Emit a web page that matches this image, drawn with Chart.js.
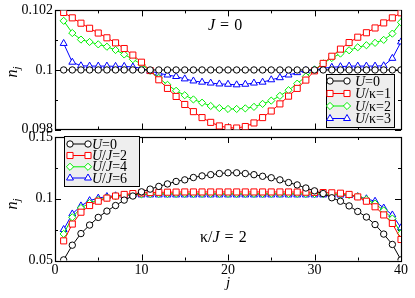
<!DOCTYPE html>
<html><head><meta charset="utf-8">
<script src="https://cdn.jsdelivr.net/npm/chart.js@4/dist/chart.umd.min.js"></script>
<style>
html,body{margin:0;padding:0;background:#fff;}
#wrap{position:relative;width:415px;height:298px;overflow:hidden;}
canvas{position:absolute;left:0;}
#c1{top:0;}
#c2{top:124px;}
</style></head><body>
<div id="wrap"><canvas id="c1" width="415" height="140"></canvas><canvas id="c2" width="415" height="174"></canvas></div>
<script>
// ---------------- DATA ----------------
const sites = [1,2,3,4,5,6,7,8,9,10,11,12,13,14,15,16,17,18,19,20,21,22,23,24,25,26,27,28,29,30,31,32,33,34,35,36,37,38,39,40];

const topSeriesNames = ['U=0','U/κ=1','U/κ=2','U/κ=3'];
const topU0 = [0.1,0.1,0.1,0.1,0.1,0.1,0.1,0.1,0.1,0.1,0.1,0.1,0.1,0.1,0.1,0.1,0.1,0.1,0.1,0.1,0.1,0.1,0.1,0.1,0.1,0.1,0.1,0.1,0.1,0.1,0.1,0.1,0.1,0.1,0.1,0.1,0.1,0.1,0.1,0.1];
const topUk1 = [0.10193,0.10175,0.10157,0.10140,0.10124,0.10108,0.10091,0.10072,0.10050,0.10026,0.09998,0.09967,0.09938,0.09911,0.09884,0.09860,0.09840,0.09824,0.09812,0.09806,
                0.09805,0.09810,0.09822,0.09840,0.09862,0.09886,0.09912,0.09938,0.09966,0.09997,0.10022,0.10046,0.10070,0.10092,0.10110,0.10125,0.10141,0.10158,0.10175,0.10192];
const topUk2 = [0.10165,0.10124,0.10102,0.10094,0.10086,0.10078,0.10067,0.10052,0.10036,0.10019,0.09997,0.09973,0.09950,0.09930,0.09915,0.09901,0.09890,0.09879,0.09872,0.09869,
                0.09869,0.09871,0.09876,0.09886,0.09897,0.09913,0.09932,0.09954,0.09978,0.10001,0.10022,0.10040,0.10055,0.10066,0.10076,0.10083,0.10091,0.10101,0.10122,0.10160];
const topUk3 = [0.10089,0.10026,0.10014,0.10013,0.10013,0.10013,0.10012,0.10012,0.10010,0.10006,0.09996,0.09989,0.09983,0.09978,0.09970,0.09963,0.09959,0.09956,0.09953,0.09952,
                0.09950,0.09952,0.09956,0.09959,0.09967,0.09974,0.09983,0.09991,0.09998,0.10000,0.10006,0.10009,0.10011,0.10013,0.10013,0.10013,0.10013,0.10014,0.10039,0.10094];

const botSeriesNames = ['U=0','U/J=2','U/J=4','U/J=6'];
const botU0 = [0.0505,0.0624,0.0718,0.0787,0.0849,0.0900,0.0945,0.0989,0.1022,0.1056,0.1078,0.1100,0.1120,0.1140,0.1153,0.1172,0.1185,0.1195,0.1204,0.1210,
               0.1210,0.1204,0.1195,0.1182,0.1170,0.1153,0.1131,0.1112,0.1087,0.1064,0.1042,0.1008,0.0980,0.0942,0.0897,0.0852,0.0791,0.0714,0.0630,0.0505];
const botUJ2 = [0.0659,0.0795,0.0891,0.0945,0.0980,0.1005,0.1022,0.1035,0.1042,0.1047,0.1050,0.1052,0.1053,0.1054,0.1055,0.1055,0.1055,0.1055,0.1055,0.1055,
                0.1055,0.1055,0.1055,0.1055,0.1055,0.1055,0.1055,0.1054,0.1053,0.1052,0.1050,0.1048,0.1045,0.1035,0.1015,0.0980,0.0935,0.0869,0.0800,0.0670];
const botUJ4 = [0.0715,0.0850,0.0925,0.0965,0.0990,0.1008,0.1020,0.1028,0.1033,0.1036,0.1038,0.1039,0.1040,0.1040,0.1040,0.1040,0.1040,0.1040,0.1040,0.1040,
                0.1040,0.1040,0.1040,0.1040,0.1040,0.1040,0.1040,0.1040,0.1039,0.1039,0.1038,0.1037,0.1036,0.1030,0.1018,0.0995,0.0960,0.0905,0.0840,0.0720];
const botUJ6 = [0.0751,0.0877,0.0942,0.0985,0.1005,0.1018,0.1024,0.1028,0.1030,0.1031,0.1031,0.1031,0.1031,0.1031,0.1031,0.1031,0.1031,0.1031,0.1031,0.1031,
                0.1031,0.1031,0.1031,0.1031,0.1031,0.1031,0.1031,0.1031,0.1031,0.1031,0.1031,0.1031,0.1030,0.1026,0.1017,0.1000,0.0980,0.0925,0.0869,0.0765];

const xMajorTicks = [0,10,20,30,40];
const xMinorTicks = [5,15,25,35];
const topYTicks = [0.098,0.1,0.102];
const topYTickLabels = ['0.098','0.1','0.102'];
const topYMinor = [0.099,0.101];
const botYTicks = [0.05,0.1,0.15];
const botYTickLabels = ['0.05','0.1','0.15'];
const botYMinor = [0.075,0.125];
const xTitle = 'j';
const topNote = 'J = 0';
const botNote = 'κ/J = 2';

// ---------------- STYLE ----------------
const SERIF = "'Liberation Serif','Times New Roman',serif";
const seriesColors = ['#000000','#ff0000','#00f000','#0000ff'];
const seriesMarkers = ['circle','rect','rectRot','triangle'];
const seriesRadius = [3.2,4.3,3.6,4.0];

function buildDatasets(names, arrays){
  return arrays.map((arr,k)=>({
    label: names[k],
    data: arr.map((v,i)=>({x:sites[i], y:v})),
    borderColor: seriesColors[k],
    backgroundColor: '#ffffff',
    pointBorderColor: seriesColors[k],
    pointBackgroundColor: '#ffffff',
    pointStyle: seriesMarkers[k],
    pointRadius: seriesRadius[k],
    pointBorderWidth: 1,
    borderWidth: 1,
    tension: 0,
    fill: false
  }));
}

function drawRich(ctx, text, x, y, size, spaceW){
  let cx = x;
  for (const ch of text){
    if (ch === ' '){ cx += spaceW; continue; }
    const it = /[A-Za-z]/.test(ch);
    ctx.font = (it ? 'italic ' : '') + size + 'px ' + SERIF;
    ctx.fillText(ch, cx, y);
    cx += ctx.measureText(ch).width;
  }
  return cx;
}

const framePlugin = {
  id: 'frame',
  beforeDatasetsDraw(chart, args, o){
    const {ctx, chartArea:a, scales:{x, y}} = chart;
    ctx.save();
    ctx.strokeStyle = '#000'; ctx.lineWidth = 1.2;
    ctx.strokeRect(Math.round(a.left)+0.5, Math.round(a.top)+0.5, Math.round(a.right-a.left), Math.round(a.bottom-a.top));
    ctx.beginPath();
    ctx.lineWidth = 1;
    const tick = (vals, len, isX) => {
      vals.forEach(v=>{
        if (isX){
          const p = Math.round(x.getPixelForValue(v))+0.5;
          ctx.moveTo(p, a.bottom); ctx.lineTo(p, a.bottom-len);
          ctx.moveTo(p, a.top); ctx.lineTo(p, a.top+len);
        } else {
          const p = Math.round(y.getPixelForValue(v))+0.5;
          ctx.moveTo(a.left, p); ctx.lineTo(a.left+len, p);
          ctx.moveTo(a.right, p); ctx.lineTo(a.right-len, p);
        }
      });
    };
    tick(xMajorTicks, 6, true); tick(xMinorTicks, 3, true);
    tick(o.yMajor, 6, false); tick(o.yMinor, 3, false);
    ctx.stroke();
    ctx.restore();
  },
  afterDraw(chart, args, o){
    const {ctx} = chart;
    ctx.save();
    ctx.fillStyle = '#000';
    // y axis title n_j
    ctx.translate(o.yTitle.x, o.yTitle.y);
    ctx.rotate(-Math.PI/2);
    ctx.textBaseline = 'middle';
    ctx.font = 'italic 16px ' + SERIF;
    const wn = ctx.measureText('n').width;
    ctx.font = 'italic 11px ' + SERIF;
    const wj = ctx.measureText('j').width;
    const x0 = -(wn+wj)/2;
    ctx.font = 'italic 16px ' + SERIF;
    ctx.fillText('n', x0, 0);
    ctx.font = 'italic 11px ' + SERIF;
    ctx.fillText('j', x0+wn, 4);
    ctx.restore();

    // annotation
    ctx.save();
    ctx.fillStyle = '#000';
    ctx.textBaseline = 'alphabetic';
    drawRich(ctx, o.note.text, o.note.x, o.note.y, o.note.size, o.note.space);
    ctx.restore();

    // legend
    const L = o.legend;
    ctx.save();
    ctx.fillStyle = '#eeeeee';
    ctx.fillRect(L.x, L.y, L.w, L.h);
    ctx.strokeStyle = '#000'; ctx.lineWidth = 1;
    ctx.strokeRect(L.x+0.5, L.y+0.5, L.w, L.h);
    chart.data.datasets.forEach((ds,k)=>{
      const ry = L.rows[k];
      ctx.strokeStyle = ds.borderColor; ctx.lineWidth = 1;
      ctx.beginPath(); ctx.moveTo(L.m0, ry); ctx.lineTo(L.m1, ry); ctx.stroke();
      ctx.fillStyle = '#ffffff';
      [L.m0, L.m1].forEach(mx=>{
        Chart.helpers.drawPoint(ctx, {pointStyle: ds.pointStyle, radius: ds.pointRadius, borderWidth: 1, rotation: 0}, mx, ry);
      });
      ctx.fillStyle = '#000';
      ctx.textBaseline = 'middle';
      drawRich(ctx, ds.label, L.tx, ry+1, L.size, 3);
    });
    ctx.restore();
  }
};

function makeOptions(c){
  return {
    responsive: false, animation: false, devicePixelRatio: 1,
    layout: {padding: {top: c.padTop, right: 14, left: 0, bottom: 0}},
    plugins: {legend: {display: false}, tooltip: {enabled: false}, frame: c.frame},
    scales: {
      x: {
        type: 'linear', min: 0, max: 40,
        afterBuildTicks: s => { s.ticks = xMajorTicks.map(v=>({value:v})); },
        ticks: {display: c.showX, color: '#000', font: {family: SERIF, size: 14}, padding: 1, maxRotation: 0, autoSkip: false, callback: v => String(v)},
        grid: {display: false, drawTicks: false},
        border: {display: false},
        title: {display: c.showX, text: xTitle, color: '#000', font: {family: SERIF, size: 15, style: 'italic'}, padding: {top: 0, bottom: 6}},
        afterFit: s => { s.height = c.xH; }
      },
      y: {
        min: c.yMin, max: c.yMax,
        afterBuildTicks: s => { s.ticks = c.yTicks.map(v=>({value:v})); },
        ticks: {color: '#000', font: {family: SERIF, size: 14}, padding: 2, callback: v => c.yLabels[c.yTicks.indexOf(v)]},
        grid: {display: false, drawTicks: false},
        border: {display: false},
        afterFit: s => { s.width = 55; }
      }
    }
  };
}

new Chart(document.getElementById('c1'), {
  type: 'line',
  data: {datasets: buildDatasets(topSeriesNames, [topU0, topUk1, topUk2, topUk3])},
  options: makeOptions({
    padTop: 9.5, xH: 10.5, showX: false, yMin: 0.098, yMax: 0.102, yTicks: topYTicks, yLabels: topYTickLabels,
    frame: {yMajor: topYTicks, yMinor: topYMinor, yTitle: {x: 13, y: 72},
      note: {text: topNote, x: 208, y: 30, size: 16, space: 5},
      legend: {x: 326, y: 74, w: 68, h: 53, rows: [81, 93.5, 106, 118.5], m0: 330, m1: 347, tx: 355, size: 14}}
  }),
  plugins: [framePlugin]
});

new Chart(document.getElementById('c2'), {
  type: 'line',
  data: {datasets: buildDatasets(botSeriesNames, [botU0, botUJ2, botUJ4, botUJ6])},
  options: makeOptions({
    padTop: 13, xH: 37.5, showX: true, yMin: 0.05, yMax: 0.15, yTicks: botYTicks, yLabels: botYTickLabels,
    frame: {yMajor: botYTicks, yMinor: botYMinor, yTitle: {x: 13, y: 80},
      note: {text: botNote, x: 200, y: 118, size: 16, space: 5},
      legend: {x: 64, y: 12, w: 75, h: 50, rows: [20, 31.5, 42.8, 54], m0: 70, m1: 88, tx: 92, size: 14}}
  }),
  plugins: [framePlugin]
});
</script>
</body></html>
